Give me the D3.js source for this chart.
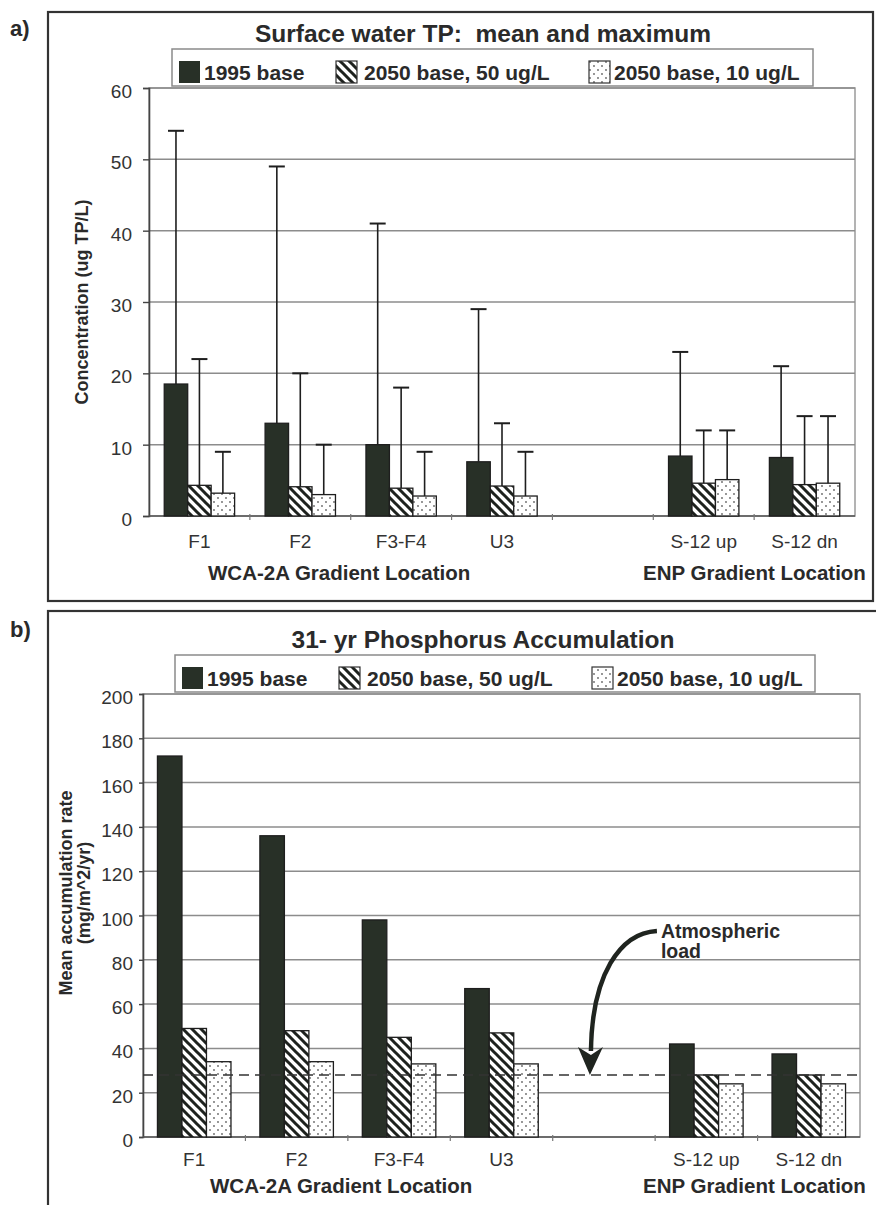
<!DOCTYPE html>
<html><head><meta charset="utf-8">
<script src="https://cdn.jsdelivr.net/npm/d3@7"></script>
<style>body{margin:0;background:#fff} svg{display:block;font-family:"Liberation Sans",Arial,sans-serif} text{white-space:pre}</style>
</head><body><svg id="c" width="876" height="1205"></svg>
<script>
// ---------- data ----------
const categories = ["F1","F2","F3-F4","U3","","S-12 up","S-12 dn"];
const seriesNames = ["1995 base","2050 base, 50 ug/L","2050 base, 10 ug/L"];
const groupLabels = ["WCA-2A Gradient Location","ENP Gradient Location"];
// Panel a: surface water TP (ug TP/L)
const tpMean1995   = [18.5, 13.0, 10.0, 7.6, null, 8.4, 8.2];
const tpMean2050_50 = [4.3, 4.1, 3.9, 4.2, null, 4.6, 4.4];
const tpMean2050_10 = [3.2, 3.0, 2.8, 2.8, null, 5.1, 4.6];
const tpMax1995    = [54, 49, 41, 29, null, 23, 21];
const tpMax2050_50 = [22, 20, 18, 13, null, 12, 14];
const tpMax2050_10 = [9, 10, 9, 9, null, 12, 14];
const yTicksA = [0,10,20,30,40,50,60];
// Panel b: 31-yr P accumulation (mg/m^2/yr)
const accum1995    = [172, 136, 98, 67, null, 42, 37.5];
const accum2050_50 = [49, 48, 45, 47, null, 28, 28];
const accum2050_10 = [34, 34, 33, 33, null, 24, 24];
const atmosphericLoad = 28;
const yTicksB = [0,20,40,60,80,100,120,140,160,180,200];

// ---------- setup ----------
const svg = d3.select("#c");
const TXT = "#2a2a2a", DARK = "#283027";
const defs = svg.append("defs");
const hp = defs.append("pattern").attr("id","hatch").attr("patternUnits","userSpaceOnUse")
  .attr("width",9).attr("height",9);
hp.append("rect").attr("width",9).attr("height",9).attr("fill","#fff");
hp.append("path").attr("d","M-3,-3 L12,12 M-3,6 L3,12 M6,-3 L12,3")
  .attr("stroke","#1e221e").attr("stroke-width",3);
const dp = defs.append("pattern").attr("id","dots").attr("patternUnits","userSpaceOnUse")
  .attr("width",8).attr("height",8);
dp.append("rect").attr("width",8).attr("height",8).attr("fill","#fff");
dp.append("circle").attr("cx",2).attr("cy",2).attr("r",0.9).attr("fill","#666");
dp.append("circle").attr("cx",6).attr("cy",6).attr("r",0.9).attr("fill","#666");
const fills = [DARK, "url(#hatch)", "url(#dots)"];

function drawPanel(cfg) {
  const g = svg.append("g");
  g.append("rect").attr("x",cfg.box[0]).attr("y",cfg.box[1])
    .attr("width",cfg.box[2]-cfg.box[0]).attr("height",cfg.box[3]-cfg.box[1])
    .attr("fill","#fff").attr("stroke","#333").attr("stroke-width",2.2);
  g.append("text").attr("x",10).attr("y",cfg.letterY).text(cfg.letter)
    .attr("font-size",22).attr("font-weight","bold").attr("fill",TXT);
  g.append("text").attr("x",483).attr("y",cfg.titleY).attr("text-anchor","middle")
    .attr("font-size",24.5).attr("font-weight","bold").attr("fill",TXT).text(cfg.title);

  const x = d3.scaleBand().domain(d3.range(categories.length)).range([cfg.px0,cfg.px1]).padding(0);
  const x1 = d3.scaleBand().domain(d3.range(3)).range([0,x.bandwidth()]).paddingInner(0).paddingOuter(cfg.pad);
  const y = d3.scaleLinear().domain([0,cfg.ymax]).range([cfg.py1,cfg.py0]);

  g.append("rect").attr("x",cfg.px0).attr("y",cfg.py0).attr("width",cfg.px1-cfg.px0)
    .attr("height",cfg.py1-cfg.py0).attr("fill","#fff").attr("stroke","#9a9a9a").attr("stroke-width",1.5);
  g.append("g").selectAll("line").data(cfg.ticks.filter(t=>t>0)).join("line")
    .attr("x1",cfg.px0).attr("x2",cfg.px1).attr("y1",d=>y(d)).attr("y2",d=>y(d))
    .attr("stroke","#8c8c8c").attr("stroke-width",1.5);

  const ya = g.append("g").attr("transform",`translate(${cfg.px0},0)`)
    .call(d3.axisLeft(y).tickValues(cfg.ticks).tickSize(cfg.tickLen).tickPadding(cfg.tickPad));
  ya.select(".domain").attr("stroke","#444").attr("stroke-width",1.6);
  ya.selectAll(".tick line").attr("stroke","#444").attr("stroke-width",1.4);
  ya.selectAll(".tick text").attr("font-size",19).attr("fill","#333").attr("dy","0.5em")
    .attr("font-family","'Liberation Sans',Arial,sans-serif");

  const xa = g.append("g").attr("transform",`translate(0,${cfg.py1})`);
  xa.append("line").attr("x1",cfg.px0).attr("x2",cfg.px1).attr("stroke","#555").attr("stroke-width",1.6);
  xa.selectAll("line.tk").data(d3.range(1,categories.length)).join("line").attr("class","tk")
    .attr("x1",d=>x(d)).attr("x2",d=>x(d)).attr("y1",-2).attr("y2",4).attr("stroke","#777").attr("stroke-width",1.2);
  xa.selectAll("text").data(categories).join("text")
    .attr("x",(d,i)=>x(i)+x.bandwidth()/2).attr("y",cfg.catY-cfg.py1)
    .attr("text-anchor","middle").attr("font-size",19).attr("fill","#333").text(d=>d);
  g.append("text").attr("x",cfg.grpX[0]).attr("y",cfg.grpY).attr("font-size",20.5)
    .attr("font-weight","bold").attr("fill",TXT).text(groupLabels[0]);
  g.append("text").attr("x",cfg.grpX[1]).attr("y",cfg.grpY).attr("font-size",20.5)
    .attr("font-weight","bold").attr("fill",TXT).text(groupLabels[1]);

  const bars = g.append("g");
  cfg.series.forEach((vals,s)=>{
    bars.append("g").selectAll("rect").data(vals.map((v,i)=>({v,i})).filter(d=>d.v!=null)).join("rect")
      .attr("x",d=>x(d.i)+x1(s)).attr("width",x1.bandwidth())
      .attr("y",d=>y(d.v)).attr("height",d=>y(0)-y(d.v))
      .attr("fill",fills[s]).attr("stroke","#1e1e1e").attr("stroke-width",1.3);
  });
  if (cfg.maxes) {
    cfg.maxes.forEach((vals,s)=>{
      const eb = bars.append("g").attr("stroke","#1e1e1e").attr("stroke-width",1.6);
      vals.forEach((m,i)=>{
        if (m==null) return;
        const cx = x(i)+x1(s)+x1.bandwidth()/2;
        eb.append("line").attr("x1",cx).attr("x2",cx).attr("y1",y(cfg.series[s][i])).attr("y2",y(m));
        eb.append("line").attr("x1",cx-8).attr("x2",cx+8).attr("y1",y(m)).attr("y2",y(m)).attr("stroke-width",2);
      });
    });
  }

  cfg.yTitle.forEach((t,k)=>{
    g.append("text").attr("transform",`translate(${cfg.yTitleX[k]},${cfg.yTitleY}) rotate(-90)`)
      .attr("text-anchor","middle").attr("font-size",18).attr("font-weight","bold").attr("fill",TXT).text(t);
  });

  const L = cfg.legend;
  const lg = g.append("g");
  lg.append("rect").attr("x",L.x0).attr("y",L.y0).attr("width",L.x1-L.x0).attr("height",L.y1-L.y0)
    .attr("fill","#fff").attr("stroke","#8a8a8a").attr("stroke-width",1.5);
  seriesNames.forEach((n,s)=>{
    lg.append("rect").attr("x",L.sw[s]).attr("y",L.swY).attr("width",21).attr("height",22)
      .attr("fill",fills[s]).attr("stroke","#333").attr("stroke-width",s===0?0:1.2);
    lg.append("text").attr("x",L.tx[s]).attr("y",L.ty).attr("font-size",21).attr("font-weight","bold")
      .attr("fill",TXT).text(n);
  });
  return {g,x,y};
}

drawPanel({
  box:[48,12,873,601], letter:"a)", letterY:36, title:"Surface water TP:  mean and maximum", titleY:42,
  px0:149, px1:855, py0:88, py1:516, ymax:60, ticks:yTicksA, pad:0.65, tickLen:6, tickPad:11,
  catY:548, grpY:580, grpX:[208,643],
  series:[tpMean1995,tpMean2050_50,tpMean2050_10], maxes:[tpMax1995,tpMax2050_50,tpMax2050_10],
  yTitle:["Concentration (ug TP/L)"], yTitleX:[88], yTitleY:302,
  legend:{x0:172,x1:813,y0:49,y1:86, sw:[179,336,589], swY:61, tx:[204,364,614], ty:80}
});

const pb = drawPanel({
  box:[48,611,878,1212], letter:"b)", letterY:637, title:"31- yr Phosphorus Accumulation", titleY:648,
  px0:143, px1:860, py0:694, py1:1137, ymax:200, ticks:yTicksB, pad:0.59, tickLen:4, tickPad:6,
  catY:1166, grpY:1193, grpX:[210,643],
  series:[accum1995,accum2050_50,accum2050_10], maxes:null,
  yTitle:["Mean accumulation rate","(mg/m^2/yr)"], yTitleX:[72,90], yTitleY:893,
  legend:{x0:175,x1:815,y0:655,y1:692, sw:[182,339,592], swY:667, tx:[207,367,617], ty:686}
});

const yb = pb.y, xb = pb.x;
pb.g.append("line").attr("x1",143).attr("x2",860).attr("y1",yb(atmosphericLoad)).attr("y2",yb(atmosphericLoad))
  .attr("stroke","#333").attr("stroke-width",1.6).attr("stroke-dasharray","10,6");
const tipX = xb(4)+xb.bandwidth()/2-14, tipY = yb(atmosphericLoad);
pb.g.append("path")
  .attr("d",`M${tipX+67},${tipY-144} C${tipX+30},${tipY-142} ${tipX+2},${tipY-100} ${tipX+1},${tipY-24}`)
  .attr("fill","none").attr("stroke","#1f241f").attr("stroke-width",4.5);
pb.g.append("path")
  .attr("d",`M${tipX},${tipY} L${tipX-12},${tipY-28} L${tipX+1},${tipY-20} L${tipX+13},${tipY-28} Z`)
  .attr("fill","#1f241f");
pb.g.append("text").attr("x",tipX+71).attr("y",tipY-137).attr("font-size",19.5).attr("font-weight","bold")
  .attr("fill",TXT).text("Atmospheric");
pb.g.append("text").attr("x",tipX+71).attr("y",tipY-117).attr("font-size",19.5).attr("font-weight","bold")
  .attr("fill",TXT).text("load");
</script></body></html>
